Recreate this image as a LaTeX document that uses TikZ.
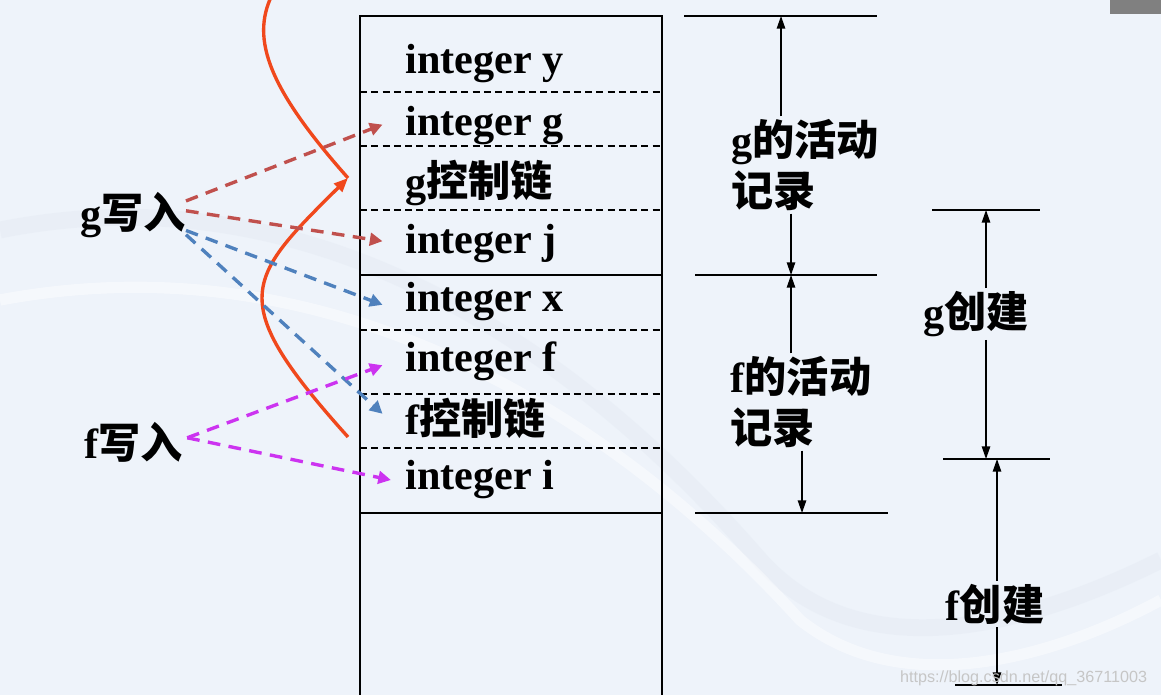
\documentclass[tikz,border=0pt]{standalone}
\usepackage{fontspec}
\setmainfont{Liberation Serif}
\setsansfont{Liberation Sans}
\newfontfamily\cjk{Noto Sans CJK SC}
\usetikzlibrary{arrows.meta}

\definecolor{bgblue}{RGB}{238,243,250}
\definecolor{swoosh}{RGB}{229,235,244}
\definecolor{curvered}{RGB}{240,72,28}
\definecolor{gred}{RGB}{192,80,77}
\definecolor{gblue}{RGB}{79,129,189}
\definecolor{fviolet}{RGB}{204,51,240}
\newcommand{\zh}[1]{{\cjk\bfseries #1}}

\tikzset{
    bigfont/.style={font=\fontsize{30}{36}\selectfont\bfseries},
    rowtext/.style={bigfont, anchor=west, inner sep=0pt},
    lbl/.style={bigfont, align=left, inner sep=2pt},
    dimline/.style={line width=1.3pt},
    dimarrow/.style={-{Triangle[length=9pt,width=6pt]}, line width=1pt},
    writearrow/.style={dash pattern=on 9pt off 6pt, line width=2.4pt, -{Triangle[length=9pt,width=9pt]}},
    sepline/.style={dash pattern=on 5pt off 3pt, line width=1pt}
}

\begin{document}
\begin{tikzpicture}[x=0.025cm, y=-0.025cm]

% -------------------------
% Background
% -------------------------
    \fill[bgblue] (0,0) rectangle (1161,695);
    \useasboundingbox (0,0) rectangle (1161,695);
    \draw[swoosh, line width=12pt, opacity=0.5] (0,230) .. controls (300,170) and (560,330) .. (760,560) .. controls (850,660) and (1000,640) .. (1161,560);
    \draw[white, line width=8pt, opacity=0.45] (0,300) .. controls (320,240) and (600,400) .. (800,620) .. controls (900,700) and (1050,660) .. (1161,600);
    \fill[gray] (1110,0) rectangle (1161,14);

% -------------------------
% Stack frame
% -------------------------
    \draw[line width=1.6pt] (360,695) -- (360,16) -- (662,16) -- (662,695);
    \draw[line width=1.6pt] (360,275) -- (662,275);
    \draw[line width=1.6pt] (360,513) -- (662,513);
    \foreach \yy in {92,146,210,330,394,448}
        \draw[sepline] (360,\yy) -- (662,\yy);

% -------------------------
% Stack rows
% -------------------------
    \node[rowtext] (ry) at (405,64) {integer y};
    \node[rowtext] (rg) at (405,126) {integer g};
    \node[rowtext] (rgc) at (405,183) {g\zh{控制链}};
    \node[rowtext] (rj) at (405,244) {integer j};
    \node[rowtext] (rx) at (405,302) {integer x};
    \node[rowtext] (rf) at (405,361) {integer f};
    \node[rowtext] (rfc) at (405,418) {f\zh{控制链}};
    \node[rowtext] (ri) at (405,480) {integer i};

% -------------------------
% Writers
% -------------------------
    \node[lbl, anchor=east, inner sep=0pt] (gw) at (186,215) {g\zh{写入}};
    \node[lbl, anchor=east, inner sep=0pt] (fw) at (183,442) {f\zh{写入}};

% -------------------------
% Red curve
% -------------------------
    \coordinate (tip) at (348,178);
    \coordinate (ctop) at (272,-5);
    \coordinate (cbot) at (348,437);
    \draw[curvered, line width=2.4pt] (ctop) .. controls (250,40) and (270,90) .. (tip);
    \draw[curvered, line width=2.4pt, -{Triangle[length=10pt,width=8pt]}] (cbot) .. controls (225,300) and (245,280) .. (tip);

% -------------------------
% Dashed write arrows
% -------------------------
    \draw[writearrow, gred] ([yshift=10pt]gw.east) -- ([xshift=-16pt, yshift=1pt]rg.west);
    \draw[writearrow, gred] ([yshift=3pt]gw.east) -- ([xshift=-16pt, yshift=2pt]rj.west);
    \draw[writearrow, gblue] ([yshift=-11pt]gw.east) -- ([xshift=-16pt, yshift=-2pt]rx.west);
    \draw[writearrow, gblue] ([yshift=-14pt]gw.east) -- ([xshift=-16pt, yshift=3pt]rfc.west);
    \draw[writearrow, fviolet] ([xshift=3pt, yshift=3pt]fw.east) -- ([xshift=-16pt, yshift=-3pt]rf.west);
    \draw[writearrow, fviolet] ([xshift=3pt, yshift=3pt]fw.east) -- ([xshift=-10pt]ri.west);

% -------------------------
% Extent marks
% -------------------------
    \draw[dimline] (684,16) -- (877,16);
    \draw[dimline] (695,275) -- (877,275);
    \draw[dimline] (695,513) -- (888,513);
    \draw[dimline] (932,210) -- (1040,210);
    \draw[dimline] (943,459) -- (1050,459);
    \draw[dimline] (955,685) -- (1062,685);

    \node[lbl] (gact) at (805,165) {g\zh{的活动}\\\zh{记录}};
    \node[lbl] (fact) at (801,402) {f\zh{的活动}\\\zh{记录}};
    \node[lbl] (gcr) at (976,314) {g\zh{创建}};
    \node[lbl] (fcr) at (995,604) {f\zh{创建}};

    \coordinate (ga) at (781,16);
    \coordinate (gb) at (791,275);
    \coordinate (fb) at (802,513);
    \coordinate (gc) at (986,210);
    \coordinate (gd) at (986,459);
    \coordinate (fd) at (997,459);
    \coordinate (fe) at (997,685);

    \draw[dimarrow] (gact.north -| ga) -- (ga);
    \draw[dimarrow] (gact.south -| gb) -- (gb);
    \draw[dimarrow] (fact.north -| gb) -- (gb);
    \draw[dimarrow] (fact.south -| fb) -- (fb);
    \draw[dimarrow] (gcr.north -| gc) -- (gc);
    \draw[dimarrow] (gcr.south -| gd) -- (gd);
    \draw[dimarrow] (fcr.north -| fd) -- (fd);
    \draw[dimarrow] (fcr.south -| fe) -- (fe);

    \node[font=\sffamily\fontsize{11.5}{12}\selectfont, text=gray!45, anchor=east] (wm) at (1152,678) {https://blog.csdn.net/qq\_36711003};
\end{tikzpicture}
\end{document}
